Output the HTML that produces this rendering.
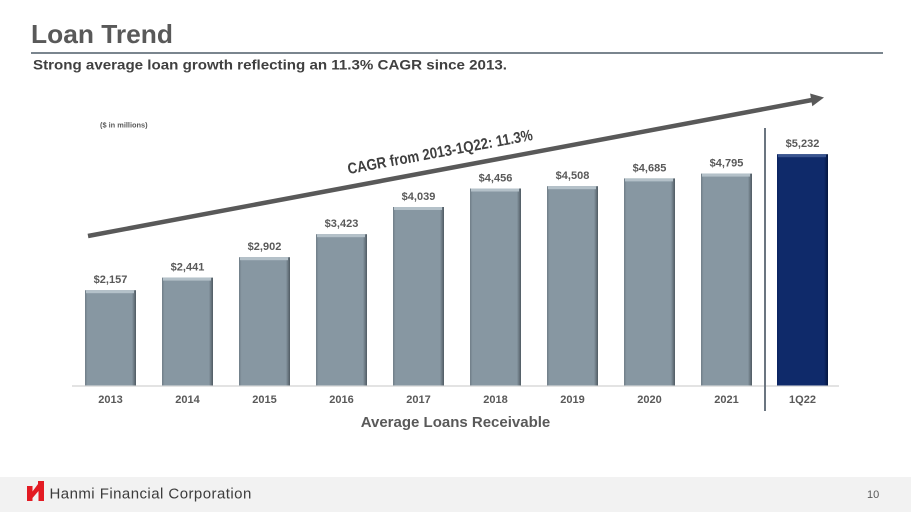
<!DOCTYPE html>
<html>
<head>
<meta charset="utf-8">
<style>
  html,body{margin:0;padding:0;background:#fff;}
  body{width:911px;height:512px;overflow:hidden;position:relative;font-family:"Liberation Sans",Arial,sans-serif;}
  svg{position:absolute;left:0;top:0;}
</style>
</head>
<body>
<svg width="911" height="512" viewBox="0 0 911 512" xmlns="http://www.w3.org/2000/svg" font-family="Liberation Sans, Arial, sans-serif">
  <defs>
    <linearGradient id="gbar" x1="0" x2="1" y1="0" y2="0">
      <stop offset="0" stop-color="#6f7d87"/>
      <stop offset="0.05" stop-color="#8797a2"/>
      <stop offset="0.92" stop-color="#8797a2"/>
      <stop offset="1" stop-color="#4f5a62"/>
    </linearGradient>
    <linearGradient id="nbar" x1="0" x2="1" y1="0" y2="0">
      <stop offset="0" stop-color="#0a2260"/>
      <stop offset="0.05" stop-color="#0f2a6a"/>
      <stop offset="0.92" stop-color="#0f2a6a"/>
      <stop offset="1" stop-color="#05163e"/>
    </linearGradient>
  </defs>

  <!-- Title -->
  <text x="31" y="43" font-size="26" font-weight="bold" fill="#595959" textLength="142" lengthAdjust="spacingAndGlyphs">Loan Trend</text>
  <rect x="31" y="52" width="852" height="2" fill="#7a858e"/>
  <text x="33" y="69.5" font-size="14" font-weight="bold" fill="#404040" textLength="474" lengthAdjust="spacingAndGlyphs">Strong average loan growth reflecting an 11.3% CAGR since 2013.</text>

  <text x="100" y="127.5" font-size="7.4" font-weight="bold" fill="#595959">($ in millions)</text>

  <!-- axis line -->
  <rect x="72" y="385" width="767" height="2" fill="#e3e3e3"/>

  <!-- bars -->
  <g>
    <rect x="85" y="290.2" width="51" height="95.3" fill="url(#gbar)"/>
    <rect x="86" y="290.2" width="48" height="3" fill="#b4c1c9"/>
    <rect x="162" y="277.6" width="51" height="107.9" fill="url(#gbar)"/>
    <rect x="163" y="277.6" width="48" height="3" fill="#b4c1c9"/>
    <rect x="239" y="257.2" width="51" height="128.3" fill="url(#gbar)"/>
    <rect x="240" y="257.2" width="48" height="3" fill="#b4c1c9"/>
    <rect x="316" y="234.2" width="51" height="151.3" fill="url(#gbar)"/>
    <rect x="317" y="234.2" width="48" height="3" fill="#b4c1c9"/>
    <rect x="393" y="207" width="51" height="178.5" fill="url(#gbar)"/>
    <rect x="394" y="207" width="48" height="3" fill="#b4c1c9"/>
    <rect x="470" y="188.5" width="51" height="197" fill="url(#gbar)"/>
    <rect x="471" y="188.5" width="48" height="3" fill="#b4c1c9"/>
    <rect x="547" y="186.2" width="51" height="199.3" fill="url(#gbar)"/>
    <rect x="548" y="186.2" width="48" height="3" fill="#b4c1c9"/>
    <rect x="624" y="178.4" width="51" height="207.1" fill="url(#gbar)"/>
    <rect x="625" y="178.4" width="48" height="3" fill="#b4c1c9"/>
    <rect x="701" y="173.6" width="51" height="211.9" fill="url(#gbar)"/>
    <rect x="702" y="173.6" width="48" height="3" fill="#b4c1c9"/>
    <rect x="777" y="154.2" width="51" height="231.3" fill="url(#nbar)"/>
    <rect x="778" y="154.2" width="48" height="3" fill="#3a5590"/>
  </g>

  <!-- value labels -->
  <g font-size="11" font-weight="bold" fill="#595959" text-anchor="middle">
    <text x="110.5" y="283">$2,157</text>
    <text x="187.5" y="270.5">$2,441</text>
    <text x="264.5" y="250">$2,902</text>
    <text x="341.5" y="227">$3,423</text>
    <text x="418.5" y="200">$4,039</text>
    <text x="495.5" y="181.5">$4,456</text>
    <text x="572.5" y="179">$4,508</text>
    <text x="649.5" y="171.5">$4,685</text>
    <text x="726.5" y="166.5">$4,795</text>
    <text x="802.5" y="147">$5,232</text>
  </g>

  <!-- category labels -->
  <g font-size="11" font-weight="bold" fill="#595959" text-anchor="middle">
    <text x="110.5" y="403">2013</text>
    <text x="187.5" y="403">2014</text>
    <text x="264.5" y="403">2015</text>
    <text x="341.5" y="403">2016</text>
    <text x="418.5" y="403">2017</text>
    <text x="495.5" y="403">2018</text>
    <text x="572.5" y="403">2019</text>
    <text x="649.5" y="403">2020</text>
    <text x="726.5" y="403">2021</text>
    <text x="802.5" y="403">1Q22</text>
  </g>

  <!-- separator -->
  <rect x="764" y="128" width="2" height="283" fill="#6b7580"/>

  <text x="455.5" y="427" font-size="15" font-weight="bold" fill="#595959" text-anchor="middle">Average Loans Receivable</text>

  <!-- CAGR arrow -->
  <line x1="88" y1="236" x2="812" y2="100" stroke="#595959" stroke-width="4.5"/>
  <polygon points="824,97.5 812.3,106.3 810.1,93.5" fill="#595959"/>
  <text x="441" y="157" font-size="15.5" font-weight="bold" fill="#404040" text-anchor="middle" textLength="188" lengthAdjust="spacingAndGlyphs" transform="rotate(-10.5 441 157)">CAGR from 2013-1Q22: 11.3%</text>

  <!-- footer -->
  <rect x="0" y="477" width="911" height="35" fill="#f2f2f2"/>
  <path d="M27,486 L32.5,486 L32.5,491.5 L38,484 L38,481 L44,481 L44,501 L38.5,501 L38.5,491 L32.5,498 L32.5,501 L27,501 Z" fill="#e31b23"/>
  <text x="49.5" y="498.5" font-size="15" fill="#3c3c3c" letter-spacing="0.45">Hanmi Financial Corporation</text>
  <text x="867" y="498" font-size="11" fill="#595959">10</text>
</svg>
</body>
</html>
